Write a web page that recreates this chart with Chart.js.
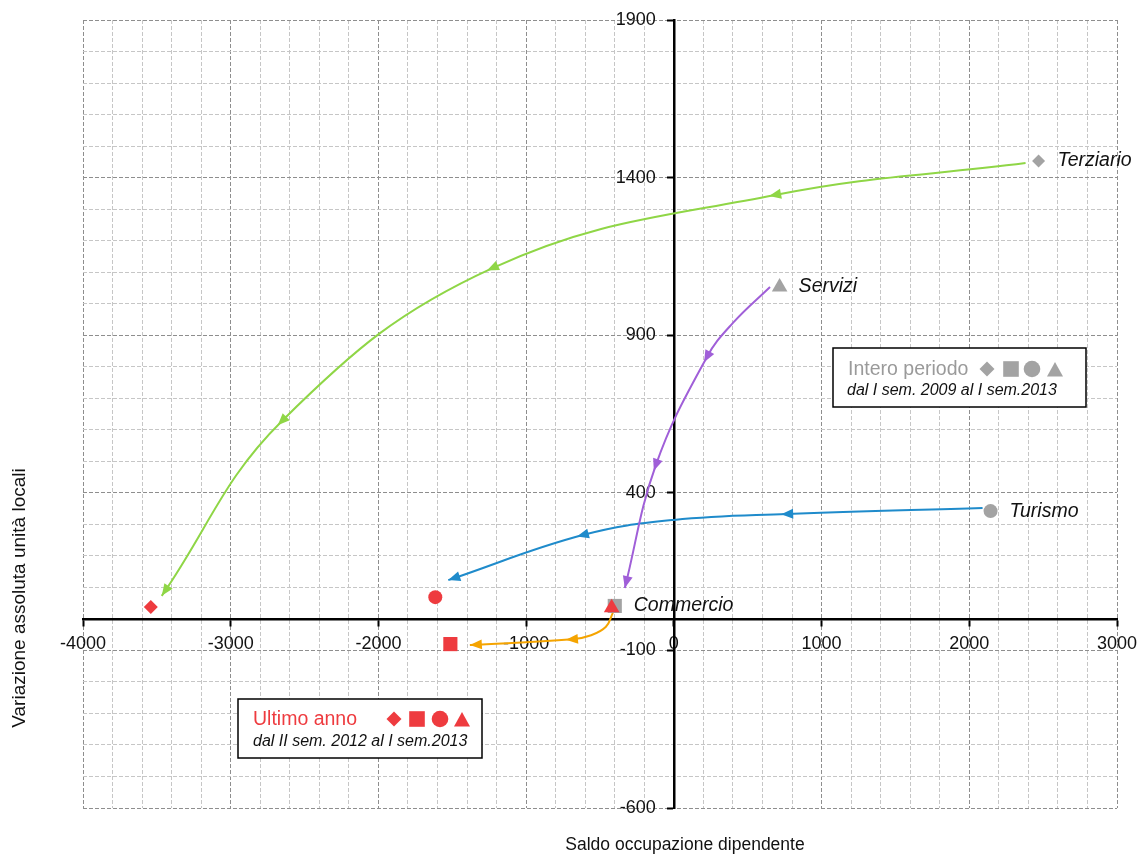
<!DOCTYPE html>
<html>
<head>
<meta charset="utf-8">
<script src="https://cdn.jsdelivr.net/npm/chart.js"></script>
<style>
  html, body { margin: 0; padding: 0; background: #fff; }
  #wrap { width: 1140px; height: 854px; }
</style>
</head>
<body>
<div id="wrap"><canvas id="myChart" width="1140" height="854"></canvas></div>
<script>
const sectorNames = ["Terziario", "Commercio", "Turismo", "Servizi"];
const markerStyles = ["rectRot", "rect", "circle", "triangle"];
const markerSizes = [6.5, 10, 7, 9];

// intero periodo (grigio): dal I sem. 2009 al I sem. 2013
const periodX = [2469, -400, 2144, 716];
const periodY = [1453, 41, 342, 1053];
// ultimo anno (rosso): dal II sem. 2012 al I sem. 2013
const yearX = [-3541, -1513, -1615, -421];
const yearY = [38, -80, 69, 35];

// percorsi delle frecce (grigio -> rosso)
const terziarioPathX = [2381, 685, -1228, -2653, -3467];
const terziarioPathY = [1446, 1345, 1113, 628, 73];
const serviziPathX = [651, 400, 224, -122, -332];
const serviziPathY = [1053, 939, 831, 488, 98];
const turismoPathX = [2090, 767, 0, -617, -1527];
const turismoPathY = [352, 333, 314, 266, 123];
const commercioPathX = [-413, -460, -560, -690, -1381];
const commercioPathY = [19, -25, -52, -65, -83];

const xTickLabels = [-4000, -3000, -2000, -1000, 0, 1000, 2000, 3000];
const yTickLabels = [-600, -100, 400, 900, 1400, 1900];

const FONT = "'Liberation Sans', Arial, Helvetica, sans-serif";
const GREY = "#a3a3a3";
const RED = "#ee3b3f";

const toPoints = (xs, ys) => xs.map((x, i) => ({ x: x, y: ys[i] }));

function curve(label, xs, ys, color, arrows) {
  return {
    label: label,
    data: toPoints(xs, ys),
    showLine: true,
    borderColor: color,
    backgroundColor: color,
    borderWidth: 2,
    pointRadius: 0,
    pointHoverRadius: 0,
    tension: 0.4,
    fill: false,
    order: 2,
    arrowAt: arrows,
  };
}

function shape(ctx, style, x, y, r) {
  ctx.beginPath();
  if (style === "rectRot") {
    ctx.moveTo(x - r, y);
    ctx.lineTo(x, y - r);
    ctx.lineTo(x + r, y);
    ctx.lineTo(x, y + r);
    ctx.closePath();
  } else if (style === "rect") {
    ctx.rect(x - r, y - r, 2 * r, 2 * r);
  } else if (style === "circle") {
    ctx.arc(x, y, r, 0, Math.PI * 2);
  } else {
    ctx.moveTo(x, y - r);
    ctx.lineTo(x + r, y + r * 0.8);
    ctx.lineTo(x - r, y + r * 0.8);
    ctx.closePath();
  }
  ctx.fill();
}

// arrowheads along each curve
const arrowPlugin = {
  id: "arrows",
  afterDatasetDraw(chart, args) {
    const ds = chart.data.datasets[args.index];
    if (!ds.arrowAt) return;
    const pts = args.meta.data;
    const ctx = chart.ctx;
    ds.arrowAt.forEach((i) => {
      const p = pts[i];
      const a = pts[i - 1];
      const b = pts[Math.min(i + 1, pts.length - 1)];
      const ang = Math.atan2(b.y - a.y, b.x - a.x);
      const tip = i === pts.length - 1 ? 0 : 6;
      ctx.save();
      ctx.translate(p.x, p.y);
      ctx.rotate(ang);
      ctx.fillStyle = ds.borderColor;
      ctx.beginPath();
      ctx.moveTo(tip, 0);
      ctx.lineTo(tip - 12, -5);
      ctx.lineTo(tip - 12, 5);
      ctx.closePath();
      ctx.fill();
      ctx.restore();
    });
  },
};

// sector names, legend boxes, axis titles
const notesPlugin = {
  id: "notes",
  afterDraw(chart) {
    const ctx = chart.ctx;
    const greyMeta = chart.getDatasetMeta(0);
    ctx.save();
    ctx.textBaseline = "middle";
    ctx.textAlign = "left";
    ctx.fillStyle = "#111";
    ctx.font = "italic 19.5px " + FONT;
    sectorNames.forEach((name, i) => {
      const p = greyMeta.data[i];
      ctx.fillText(name, p.x + 19, p.y);
    });

    // box: intero periodo
    ctx.fillStyle = "#fff";
    ctx.strokeStyle = "#000";
    ctx.lineWidth = 1.5;
    ctx.fillRect(833, 348, 253, 59);
    ctx.strokeRect(833, 348, 253, 59);
    ctx.fillStyle = "#9a9a9a";
    ctx.font = "19.5px " + FONT;
    ctx.fillText("Intero periodo", 848, 370);
    ctx.fillStyle = GREY;
    shape(ctx, "rectRot", 987, 369, 7.5);
    shape(ctx, "rect", 1011, 369, 7.8);
    shape(ctx, "circle", 1032, 369, 8.3);
    shape(ctx, "triangle", 1055, 370, 8);
    ctx.fillStyle = "#111";
    ctx.font = "italic 16px " + FONT;
    ctx.fillText("dal I sem. 2009 al I sem.2013", 847, 391);

    // box: ultimo anno
    ctx.fillStyle = "#fff";
    ctx.fillRect(238, 699, 244, 59);
    ctx.strokeRect(238, 699, 244, 59);
    ctx.fillStyle = RED;
    ctx.font = "19.5px " + FONT;
    ctx.fillText("Ultimo anno", 253, 720);
    shape(ctx, "rectRot", 394, 719, 7.5);
    shape(ctx, "rect", 417, 719, 7.8);
    shape(ctx, "circle", 440, 719, 8.3);
    shape(ctx, "triangle", 462, 720, 8);
    ctx.fillStyle = "#111";
    ctx.font = "italic 16px " + FONT;
    ctx.fillText("dal II sem. 2012 al I sem.2013", 253, 742);

    // axis titles
    ctx.fillStyle = "#111";
    ctx.textAlign = "center";
    ctx.font = "17.5px " + FONT;
    ctx.fillText("Saldo occupazione dipendente", 685, 845);
    ctx.translate(20, 598);
    ctx.rotate(-Math.PI / 2);
    ctx.font = "19px " + FONT;
    ctx.fillText("Variazione assoluta unità locali", 0, 0);
    ctx.restore();
  },
};

const gridColor = (labels) => (c) => {
  if (!c.tick || c.tick.value === 0) return "rgba(0,0,0,0)";
  return labels.includes(c.tick.value) ? "#8e8e8e" : "#c6c6c6";
};
const tickColor = (labels) => (c) =>
  c.tick && labels.includes(c.tick.value) ? "#000" : "rgba(0,0,0,0)";

// centred axes: keep the plot area set by layout.padding only
const noOverhang = (scale) => {
  scale.paddingLeft = 0;
  scale.paddingRight = 0;
  scale.paddingTop = 0;
  scale.paddingBottom = 0;
};

const ctx = document.getElementById("myChart");

new Chart(ctx, {
  type: "scatter",
  data: {
    datasets: [
      {
        label: "Intero periodo",
        data: toPoints(periodX, periodY),
        pointStyle: markerStyles,
        pointRadius: markerSizes,
        pointBackgroundColor: GREY,
        pointBorderWidth: 0,
        order: 1,
      },
      {
        label: "Ultimo anno",
        data: toPoints(yearX, yearY),
        pointStyle: markerStyles,
        pointRadius: [7, 10, 7, 9],
        pointBackgroundColor: RED,
        pointBorderWidth: 0,
        order: 0,
      },
      curve("Terziario", terziarioPathX, terziarioPathY, "#8fd646", [1, 2, 3, 4]),
      curve("Servizi", serviziPathX, serviziPathY, "#a05fd8", [2, 3, 4]),
      curve("Turismo", turismoPathX, turismoPathY, "#1f8bcb", [1, 3, 4]),
      curve("Commercio", commercioPathX, commercioPathY, "#f5a400", [3, 4]),
    ],
  },
  options: {
    responsive: false,
    animation: false,
    events: [],
    layout: { padding: { left: 83, right: 23, top: 20, bottom: 46 } },
    plugins: {
      legend: { display: false },
      tooltip: { enabled: false },
    },
    scales: {
      x: {
        type: "linear",
        position: { y: 0 },
        min: -4000,
        max: 3000,
        afterFit: noOverhang,
        grid: {
          color: gridColor(xTickLabels),
          tickColor: tickColor(xTickLabels),
          tickLength: 6,
          tickWidth: 2,
          lineWidth: 1,
        },
        border: { color: "#000", width: 2.5, dash: [4, 2] },
        ticks: {
          stepSize: 200,
          autoSkip: false,
          maxRotation: 0,
          minRotation: 0,
          padding: 8,
          color: "#111",
          font: { family: FONT, size: 18 },
          callback: (v) => (xTickLabels.includes(v) ? String(v) : ""),
        },
      },
      y: {
        type: "linear",
        position: { x: 0 },
        min: -600,
        max: 1900,
        afterFit: noOverhang,
        grid: {
          color: gridColor(yTickLabels),
          tickColor: tickColor(yTickLabels),
          tickLength: 6,
          tickWidth: 2,
          lineWidth: 1,
        },
        border: { color: "#000", width: 2.5, dash: [4, 2] },
        ticks: {
          stepSize: 100,
          autoSkip: false,
          padding: 10,
          color: "#111",
          font: { family: FONT, size: 18 },
          // label sits left of the centred axis
          callback: (v) => (yTickLabels.includes(v) ? v + "\u2003" : ""),
        },
      },
    },
  },
  plugins: [arrowPlugin, notesPlugin],
});
</script>
</body>
</html>
